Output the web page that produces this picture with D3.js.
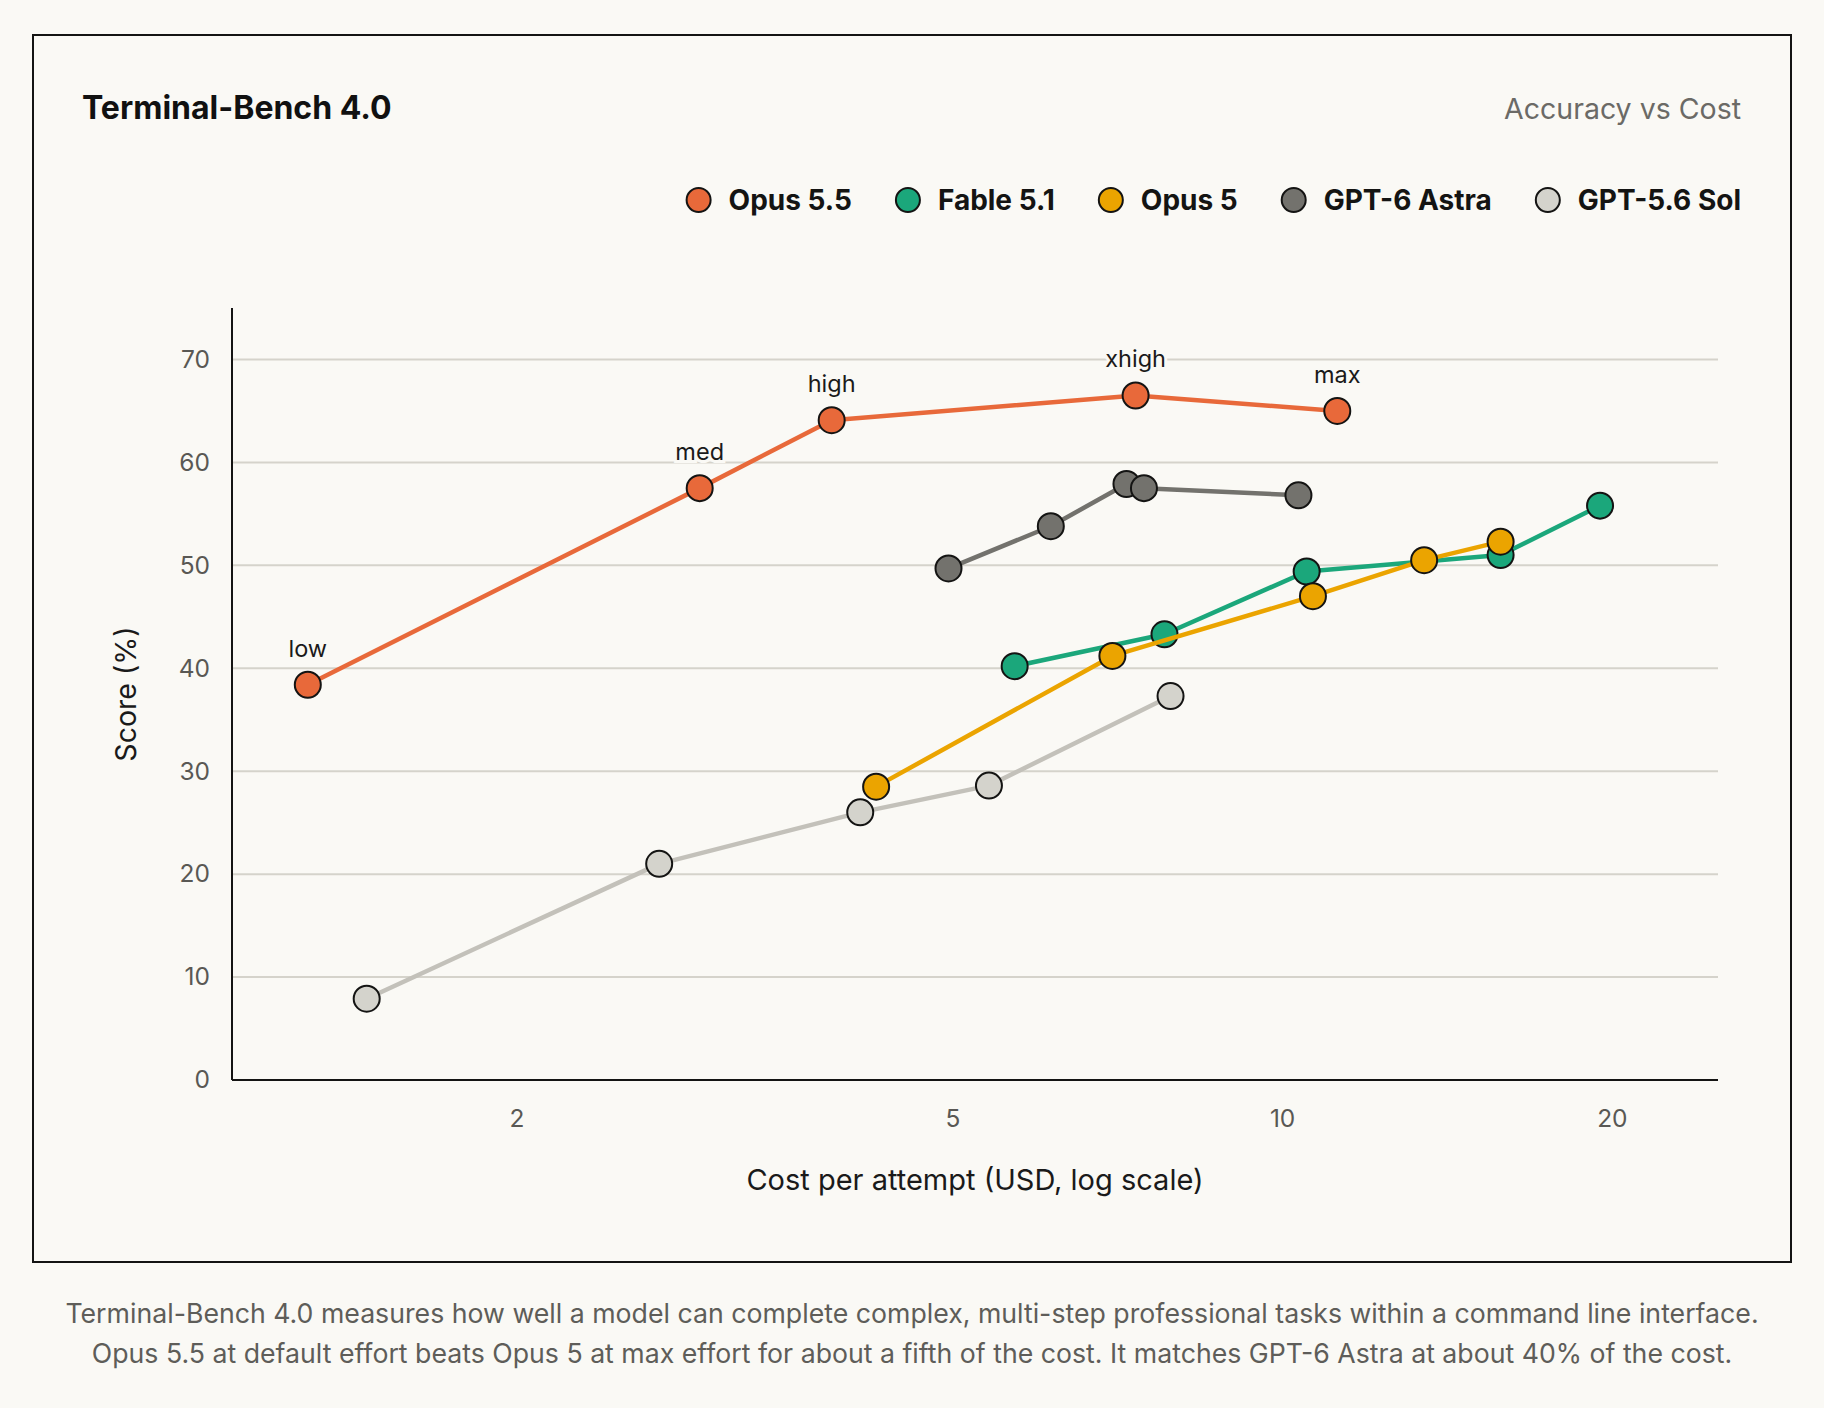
<!DOCTYPE html>
<html>
<head>
<meta charset="utf-8">
<script src="https://cdn.jsdelivr.net/npm/d3@7"></script>
<style>
    body { margin: 0; background: #faf9f5; }
    svg { display: block; }
    text { font-family: Inter, "Noto Sans", sans-serif; }
</style>
</head>
<body>
<svg id="chart" width="1824" height="1408"></svg>
<script>
const seriesNames = ["Opus 5.5", "Fable 5.1", "Opus 5", "GPT-6 Astra", "GPT-5.6 Sol"];

const opus55Cost = [1.29, 2.94, 3.88, 7.35, 11.23];
const opus55Score = [38.4, 57.5, 64.1, 66.5, 65.0];
const opus55Effort = ["low", "med", "high", "xhigh", "max"];

const fable51Cost = [5.70, 7.81, 10.53, 15.83, 19.51];
const fable51Score = [40.2, 43.3, 49.4, 51.0, 55.8];

const opus5Cost = [4.26, 7.00, 10.67, 13.48, 15.83];
const opus5Score = [28.5, 41.2, 47.0, 50.5, 52.3];

const astraCost = [4.96, 6.15, 7.21, 7.48, 10.35];
const astraScore = [49.7, 53.8, 57.9, 57.5, 56.8];

const solCost = [1.46, 2.70, 4.12, 5.40, 7.91];
const solScore = [7.9, 21.0, 26.0, 28.6, 37.3];

const xTicks = [2, 5, 10, 20];
const yTicks = [0, 10, 20, 30, 40, 50, 60, 70];

const colors = {
    "Opus 5.5": {fill: "#e8693a", line: "#e8693a"},
    "Fable 5.1": {fill: "#1ba77b", line: "#1ba77b"},
    "Opus 5": {fill: "#eba400", line: "#eba400"},
    "GPT-6 Astra": {fill: "#73726d", line: "#73726d"},
    "GPT-5.6 Sol": {fill: "#d4d3cc", line: "#c3c1ba"}
};

const zip = (cost, score) => cost.map((c, i) => ({cost: c, score: score[i]}));

// drawn back to front
const series = [
    {name: "GPT-5.6 Sol", points: zip(solCost, solScore)},
    {name: "GPT-6 Astra", points: zip(astraCost, astraScore)},
    {name: "Fable 5.1", points: zip(fable51Cost, fable51Score)},
    {name: "Opus 5", points: zip(opus5Cost, opus5Score)},
    {name: "Opus 5.5", points: zip(opus55Cost, opus55Score).map((p, i) => ({...p, label: opus55Effort[i]}))}
];

const bg = "#faf9f5",
    ink = "#141413";

let svg = d3.select("#chart"),
    plot = {left: 232, right: 1718, top: 308, bottom: 1080};

svg.append("rect")
    .attr("width", 1824).attr("height", 1408)
    .attr("fill", bg);

// frame
svg.append("rect")
    .attr("x", 33).attr("y", 35)
    .attr("width", 1758).attr("height", 1227)
    .attr("fill", "none")
    .attr("stroke", ink)
    .attr("stroke-width", 2);

svg.append("text")
    .attr("x", 82).attr("y", 119)
    .style("font-size", "32px")
    .style("font-weight", 700)
    .attr("fill", "#111")
    .text("Terminal-Bench 4.0");

svg.append("text")
    .attr("x", 1741).attr("y", 119)
    .attr("text-anchor", "end")
    .style("font-size", "28.5px")
    .attr("fill", "#6b6a66")
    .text("Accuracy vs Cost");

// legend, laid out right to left
let legend = svg.append("g").attr("class", "legend");
let cursor = 1741;
seriesNames.slice().reverse().forEach(name => {
    let item = legend.append("g");
    let label = item.append("text")
        .attr("y", 210)
        .style("font-size", "28px")
        .style("font-weight", 700)
        .attr("fill", "#141413")
        .text(name);
    let w = label.node().getComputedTextLength();
    label.attr("x", cursor - w);
    item.append("circle")
        .attr("cx", cursor - w - 30)
        .attr("cy", 200)
        .attr("r", 12)
        .attr("fill", colors[name].fill)
        .attr("stroke", ink)
        .attr("stroke-width", 2);
    cursor = cursor - w - 30 - 13 - 43;
});

let x = d3.scaleLog()
    .domain([1.1, 25])
    .range([plot.left, plot.right]);

let y = d3.scaleLinear()
    .domain([0, 75])
    .range([plot.bottom, plot.top]);

// grid
svg.append("g")
    .selectAll("line")
    .data(yTicks.filter(d => d > 0))
    .enter().append("line")
    .attr("x1", plot.left).attr("x2", plot.right)
    .attr("y1", d => y(d)).attr("y2", d => y(d))
    .attr("stroke", "#d5d3cb")
    .attr("stroke-width", 2);

let yAxis = svg.append("g")
    .attr("transform", "translate(" + plot.left + ",0)")
    .call(d3.axisLeft(y).tickValues(yTicks).tickSize(0).tickPadding(22));

let xAxis = svg.append("g")
    .attr("transform", "translate(0," + plot.bottom + ")")
    .call(d3.axisBottom(x).tickValues(xTicks).tickFormat(d3.format("d")).tickSize(0).tickPadding(30));

[yAxis, xAxis].forEach(a => {
    a.select(".domain").attr("stroke", ink).attr("stroke-width", 2);
    a.selectAll("text")
        .style("font-family", "Inter, sans-serif")
        .style("font-size", "24.5px")
        .attr("fill", "#595854");
});
yAxis.select(".domain").attr("d", "M0," + plot.top + "V" + plot.bottom);
xAxis.select(".domain").attr("d", "M" + plot.left + ",0H" + plot.right);

svg.append("text")
    .attr("x", (plot.left + plot.right) / 2)
    .attr("y", 1190)
    .attr("text-anchor", "middle")
    .style("font-size", "29px")
    .attr("fill", "#1a1a1a")
    .text("Cost per attempt (USD, log scale)");

svg.append("text")
    .attr("transform", "translate(128," + ((plot.top + plot.bottom) / 2) + ") rotate(-90)")
    .attr("text-anchor", "middle")
    .attr("dominant-baseline", "middle")
    .style("font-size", "28.5px")
    .attr("fill", "#1a1a1a")
    .text("Score (%)");

let line = d3.line()
    .x(d => x(d.cost))
    .y(d => y(d.score));

series.forEach(s => {
    let g = svg.append("g").attr("class", "serie");
    g.append("path")
        .datum(s.points)
        .attr("d", line)
        .attr("fill", "none")
        .attr("stroke", colors[s.name].line)
        .attr("stroke-width", 4.5)
        .attr("stroke-linejoin", "round");
    g.selectAll("circle")
        .data(s.points)
        .enter().append("circle")
        .attr("cx", d => x(d.cost))
        .attr("cy", d => y(d.score))
        .attr("r", 13)
        .attr("fill", colors[s.name].fill)
        .attr("stroke", ink)
        .attr("stroke-width", 2);
    g.selectAll("text")
        .data(s.points.filter(d => d.label))
        .enter().append("text")
        .attr("x", d => x(d.cost))
        .attr("y", d => y(d.score) - 28)
        .attr("text-anchor", "middle")
        .style("font-size", "23.5px")
        .attr("fill", "#1a1a1a")
        .attr("stroke", bg)
        .attr("stroke-width", 6)
        .style("paint-order", "stroke")
        .text(d => d.label);
});

// caption
const captionLines = [
    "Terminal-Bench 4.0 measures how well a model can complete complex, multi-step professional tasks within a command line interface.",
    "Opus 5.5 at default effort beats Opus 5 at max effort for about a fifth of the cost. It matches GPT-6 Astra at about 40% of the cost."
];
svg.append("g")
    .selectAll("text")
    .data(captionLines)
    .enter().append("text")
    .attr("x", 912)
    .attr("y", (d, i) => 1323 + i * 40)
    .attr("text-anchor", "middle")
    .style("font-size", "26.7px")
    .attr("fill", "#5e5d59")
    .text(d => d);
</script>
</body>
</html>
